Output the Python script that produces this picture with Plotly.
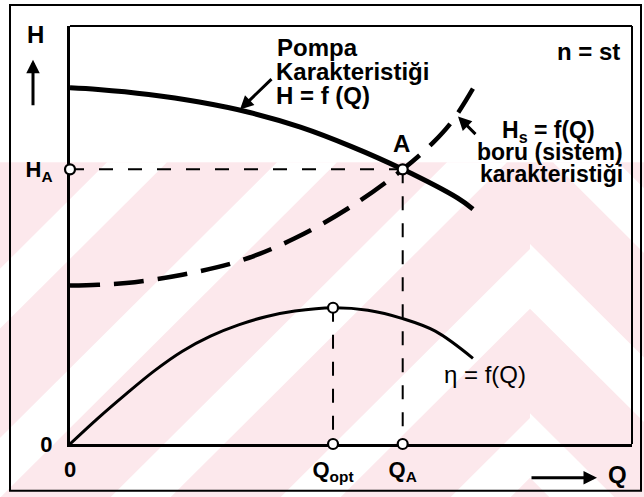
import plotly.graph_objects as go

# Pump characteristic H = f(Q)
Q_PUMP = [0.0, 0.5, 1.4, 2.3, 3.2, 4.1, 5.0, 5.92, 6.9, 7.17]
H_PUMP = [8.52, 8.48, 8.36, 8.18, 7.93, 7.58, 7.12, 6.57, 5.88, 5.62]

# Pipe (system) characteristic H_s = f(Q)
Q_SYS = [0.0, 0.5, 1.0, 2.0, 3.0, 4.0, 5.0, 5.92, 6.46, 6.81, 7.17]
H_SYS = [3.79, 3.81, 3.85, 4.05, 4.37, 4.92, 5.68, 6.57, 7.21, 7.74, 8.5]

# Efficiency curve eta = f(Q)
Q_ETA = [0.0, 0.5, 1.0, 1.5, 2.0, 2.5, 3.0, 3.5, 4.0, 4.68, 5.3, 5.92, 6.5, 7.17]
ETA = [0.0, 0.62, 1.2, 1.75, 2.22, 2.58, 2.85, 3.05, 3.18, 3.26, 3.2, 3.0, 2.7, 2.05]

# Operating point A and best-efficiency point
Q_OPT = 4.68
ETA_MAX = 3.26
Q_A = 5.92
H_A = 6.57

X_TICKS = [0, Q_OPT, Q_A]
X_TICK_TEXT = ["<b>0</b>", "<b>Q<sub>opt</sub></b>", "<b>Q<sub>A</sub></b>"]
Y_TICKS = [0, H_A]
Y_TICK_TEXT = ["<b>0</b>", "<b>H<sub>A</sub></b>"]

W, H = 644, 497
ML, MR, MT, MB = 70, 12, 26, 51
PW, PH = W - ML - MR, H - MT - MB
FONT = "Liberation Sans, Arial, sans-serif"
PINK = "#fce8ec"


def px(x):
    return (x - ML) / PW


def py(y):
    return (H - MB - y) / PH


fig = go.Figure()

# reference lines from the marked points down to the axes
fig.add_trace(go.Scatter(x=[0, Q_A], y=[H_A, H_A], mode="lines",
                         line=dict(color="black", width=2, dash="14px,15px"),
                         hoverinfo="skip", cliponaxis=False))
fig.add_trace(go.Scatter(x=[Q_A, Q_A], y=[H_A, 0], mode="lines",
                         line=dict(color="black", width=2, dash="14px,13px"),
                         hoverinfo="skip", cliponaxis=False))
fig.add_trace(go.Scatter(x=[Q_OPT, Q_OPT], y=[ETA_MAX, 0], mode="lines",
                         line=dict(color="black", width=2, dash="14px,13px"),
                         hoverinfo="skip", cliponaxis=False))

# curves
fig.add_trace(go.Scatter(x=Q_PUMP, y=H_PUMP, mode="lines", line_shape="spline",
                         line=dict(color="black", width=5), cliponaxis=False))
fig.add_trace(go.Scatter(x=Q_SYS, y=H_SYS, mode="lines", line_shape="spline",
                         line=dict(color="black", width=4.5, dash="30px,14px"),
                         cliponaxis=False))
fig.add_trace(go.Scatter(x=Q_ETA, y=ETA, mode="lines", line_shape="spline",
                         line=dict(color="black", width=3), cliponaxis=False))

# open circles at the marked points
fig.add_trace(go.Scatter(x=[0, Q_A, Q_OPT, Q_OPT, Q_A], y=[H_A, H_A, ETA_MAX, 0, 0],
                         mode="markers", cliponaxis=False,
                         marker=dict(symbol="circle", size=10, color="white",
                                     line=dict(color="black", width=2.2))))

shapes = []
# light pink page watermark with white diagonal bands
TOP, BOT, SEAM = 163, H + 5, 530
shapes.append(dict(type="rect", xref="paper", yref="paper", layer="below",
                   x0=px(-5), x1=px(W + 5), y0=py(TOP), y1=py(BOT),
                   fillcolor=PINK, line=dict(width=0)))


def clip(poly, keep_left):
    """Clip a polygon against the vertical seam line."""
    def inside(p):
        return p[0] <= SEAM if keep_left else p[0] >= SEAM

    out = []
    for i, cur in enumerate(poly):
        prev = poly[i - 1]
        if inside(cur):
            if not inside(prev):
                t = (SEAM - prev[0]) / (cur[0] - prev[0])
                out.append((SEAM, prev[1] + t * (cur[1] - prev[1])))
            out.append(cur)
        elif inside(prev):
            t = (SEAM - prev[0]) / (cur[0] - prev[0])
            out.append((SEAM, prev[1] + t * (cur[1] - prev[1])))
    return out


def band_shape(points):
    path = " ".join("{} {},{}".format("M" if i == 0 else "L", px(x), py(y))
                    for i, (x, y) in enumerate(points)) + " Z"
    return dict(type="path", xref="paper", yref="paper", layer="below",
                path=path, fillcolor="white", line=dict(width=0))


# left part: bands rising to the right (x + y = c)
for c1 in [270, 440, 610, 780, 950]:
    c2 = c1 + 60
    pts = clip([(c1 - TOP, TOP), (c2 - TOP, TOP), (c2 - BOT, BOT), (c1 - BOT, BOT)], True)
    if len(pts) >= 3:
        shapes.append(band_shape(pts))
# right part: bands falling to the right (x - y = d)
for d1 in [50, 220, 390]:
    d2 = d1 + 65
    pts = clip([(d1 + TOP, TOP), (d2 + TOP, TOP), (d2 + BOT, BOT), (d1 + BOT, BOT)], False)
    if len(pts) >= 3:
        shapes.append(band_shape(pts))

# outer frame
shapes.append(dict(type="rect", xref="paper", yref="paper", layer="above",
                   x0=px(10), x1=px(641), y0=py(493), y1=py(5),
                   line=dict(color="black", width=2)))
# top and right edges of the diagram box
shapes.append(dict(type="line", xref="paper", yref="paper", x0=0, x1=1, y0=1, y1=1,
                   line=dict(color="black", width=2)))
shapes.append(dict(type="line", xref="paper", yref="paper", x0=1, x1=1, y0=0, y1=1,
                   line=dict(color="black", width=2)))

annotations = []


def label(text, x, y, size=24, xanchor="center"):
    annotations.append(dict(text=text, xref="paper", yref="paper", x=px(x), y=py(y),
                            xanchor=xanchor, yanchor="middle", showarrow=False,
                            font=dict(family=FONT, size=size, color="black")))


def arrow(head, tail, width=3, size=0.9):
    annotations.append(dict(text="", xref="paper", yref="paper",
                            x=px(head[0]), y=py(head[1]),
                            ax=tail[0] - head[0], ay=tail[1] - head[1],
                            showarrow=True, arrowhead=2, arrowsize=size,
                            arrowwidth=width, arrowcolor="black", standoff=0))


label("<b>H</b>", 35, 35)
arrow((33, 60), (33, 107))
label("<b>Q</b>", 617, 477)
arrow((597, 480), (530, 480))

label("<b>Pompa</b>", 275, 48, xanchor="left")
label("<b>Karakteristiği</b>", 274, 72, xanchor="left")
label("<b>H = f (Q)</b>", 274, 96, xanchor="left")
arrow((240, 110), (273, 78))

label("<b>n = st</b>", 588, 52)
label("<b>A</b>", 401, 144)

label("<b>H<sub>s</sub> = f(Q)</b>", 548, 132, size=23)
label("<b>boru (sistem)</b>", 550, 153, size=23)
label("<b>karakteristiği</b>", 551, 175, size=23)
arrow((458, 117), (477, 136))

label("η = f(Q)", 485, 376)

fig.update_layout(
    width=W, height=H,
    margin=dict(l=ML, r=MR, t=MT, b=MB),
    paper_bgcolor="white", plot_bgcolor="rgba(0,0,0,0)",
    showlegend=False,
    shapes=shapes, annotations=annotations,
    font=dict(family=FONT, size=22, color="black"),
)
fig.update_xaxes(range=[0, 10], showgrid=False, zeroline=False, showline=True,
                 linecolor="black", linewidth=3, layer="below traces",
                 tickvals=X_TICKS, ticktext=X_TICK_TEXT, ticks="",
                 tickfont=dict(size=22), ticklabelstandoff=4)
fig.update_yaxes(range=[0, 10], showgrid=False, zeroline=False, showline=True,
                 linecolor="black", linewidth=3, layer="below traces",
                 tickvals=Y_TICKS, ticktext=Y_TICK_TEXT, ticks="",
                 tickfont=dict(size=22), ticklabelstandoff=10)

fig.write_html("out.html")
